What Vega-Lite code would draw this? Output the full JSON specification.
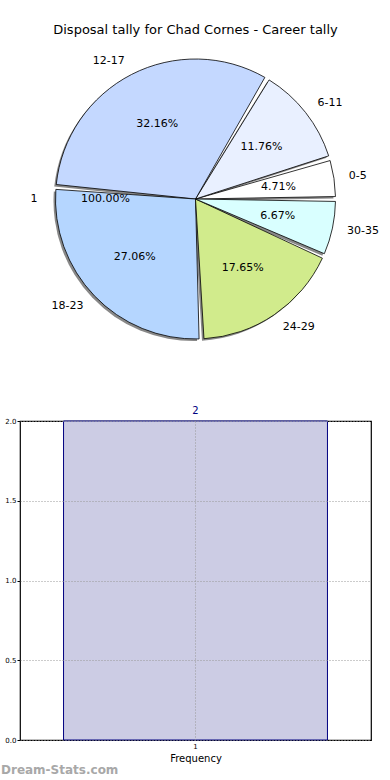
{
  "$schema": "https://vega.github.io/schema/vega-lite/v6.json",
  "padding": {"top": 24, "left": 0, "right": 0, "bottom": 0},
  "bounds": "flush",
  "spacing": 64,
  "config": {"font": "DejaVu Sans", "view": {"stroke": null}},
  "datasets": {
    "slices": [
      {"bin": "0-5", "start": 0, "count": 12, "pct": "4.71%"},
      {"bin": "6-11", "start": 6, "count": 30, "pct": "11.76%"},
      {"bin": "12-17", "start": 12, "count": 82, "pct": "32.16%"},
      {"bin": "18-23", "start": 18, "count": 69, "pct": "27.06%"},
      {"bin": "24-29", "start": 24, "count": 45, "pct": "17.65%"},
      {"bin": "30-35", "start": 30, "count": 17, "pct": "6.67%"}
    ],
    "single": [{"label": "1", "count": 2, "pct": "100.00%"}],
    "freq": [{"value": "1", "frequency": 2}]
  },
  "vconcat": [
    {
      "width": 351,
      "height": 316,
      "title": {"text": "Disposal tally for Chad Cornes - Career tally", "fontSize": 13, "fontWeight": "normal", "color": "black", "offset": 4},
      "data": {"name": "slices"},
      "layer": [
        {
          "mark": {"type": "arc", "radius": 140, "padAngle": 0.035, "color": "#555555", "opacity": 0.7, "xOffset": -2, "yOffset": 2},
          "encoding": {
            "theta": {"field": "count", "type": "quantitative", "stack": true, "scale": {"range": [1.5708, 7.854]}},
            "order": {"field": "start", "sort": "descending"}
          }
        },
        {
          "mark": {"type": "arc", "radius": 140, "padAngle": 0.035, "stroke": "black", "strokeWidth": 0.8},
          "encoding": {
            "theta": {"field": "count", "type": "quantitative", "stack": true, "scale": {"range": [1.5708, 7.854]}},
            "order": {"field": "start", "sort": "descending"},
            "color": {"field": "bin", "type": "nominal", "legend": null,
              "scale": {"domain": ["0-5", "6-11", "12-17", "18-23", "24-29", "30-35"],
                        "range": ["#ffffff", "#e9f0ff", "#c4d8ff", "#b5d6ff", "#d1eb8c", "#d9ffff"]}}
          }
        },
        {
          "mark": {"type": "text", "radius": 84, "fontSize": 11, "color": "black"},
          "encoding": {
            "theta": {"field": "count", "type": "quantitative", "stack": true, "scale": {"range": [1.5708, 7.854]}},
            "order": {"field": "start", "sort": "descending"},
            "text": {"field": "pct"}
          }
        },
        {
          "mark": {"type": "text", "radius": 155, "fontSize": 11, "color": "black", "align": "left"},
          "encoding": {
            "theta": {"field": "count", "type": "quantitative", "stack": true, "scale": {"range": [1.5708, 7.854]}},
            "order": {"field": "start", "sort": "descending"},
            "text": {"condition": {"test": "datum.start == 12 || datum.start == 18", "value": ""}, "field": "bin"}
          }
        },
        {
          "mark": {"type": "text", "radius": 155, "fontSize": 11, "color": "black", "align": "right"},
          "encoding": {
            "theta": {"field": "count", "type": "quantitative", "stack": true, "scale": {"range": [1.5708, 7.854]}},
            "order": {"field": "start", "sort": "descending"},
            "text": {"condition": {"test": "datum.start == 12 || datum.start == 18", "field": "bin"}, "value": ""}
          }
        },
        {
          "data": {"name": "single"},
          "mark": {"type": "text", "radius": 158, "fontSize": 11, "color": "black", "align": "right"},
          "encoding": {
            "theta": {"field": "count", "type": "quantitative", "stack": true, "scale": {"range": [1.5708, 7.854]}},
            "text": {"field": "label"}
          }
        },
        {
          "data": {"name": "single"},
          "mark": {"type": "text", "radius": 90, "fontSize": 11, "color": "black"},
          "encoding": {
            "theta": {"field": "count", "type": "quantitative", "stack": true, "scale": {"range": [1.5708, 7.854]}},
            "text": {"field": "pct"}
          }
        }
      ],
      "resolve": {"scale": {"theta": "independent"}}
    },
    {
      "width": 351,
      "height": 319,
      "view": {"stroke": "black", "strokeWidth": 1.2},
      "data": {"name": "freq"},
      "title": {"text": "Dream-Stats.com", "orient": "bottom", "anchor": "start", "frame": "group", "dx": -19, "offset": 2, "fontSize": 12, "fontWeight": 600, "color": "#a8a8a8"},
      "encoding": {
        "x": {"field": "value", "type": "nominal",
          "scale": {"paddingInner": 0, "paddingOuter": 0.165},
          "axis": {"title": "Frequency", "titleFontSize": 10, "titleFontWeight": "normal", "titleColor": "black", "titlePadding": 4,
                   "labelAngle": 0, "labelFontSize": 7, "labelColor": "black", "labelPadding": 2, "ticks": false, "domain": false,
                   "bandPosition": 0.5, "zindex": 1,
                   "grid": true, "gridColor": "#999999", "gridDash": [1, 2], "gridWidth": 1}},
        "y": {"field": "frequency", "type": "quantitative",
          "scale": {"domain": [0, 2], "nice": false},
          "axis": {"values": [0, 0.5, 1, 1.5, 2], "format": ".1f", "title": null, "labelFontSize": 7, "labelColor": "black",
                   "labelPadding": 1, "tickSize": 3, "tickColor": "black", "domain": false, "minExtent": 19, "maxExtent": 19,
                   "zindex": 1,
                   "grid": true, "gridColor": "#999999", "gridDash": [1, 2], "gridWidth": 1}}
      },
      "layer": [
        {"mark": {"type": "bar", "fill": "#cccce4", "stroke": "#000080", "strokeWidth": 1}},
        {"mark": {"type": "text", "dy": -10, "fontSize": 10, "color": "#000080"},
         "encoding": {"text": {"field": "frequency", "type": "quantitative"}}}
      ]
    }
  ]
}
